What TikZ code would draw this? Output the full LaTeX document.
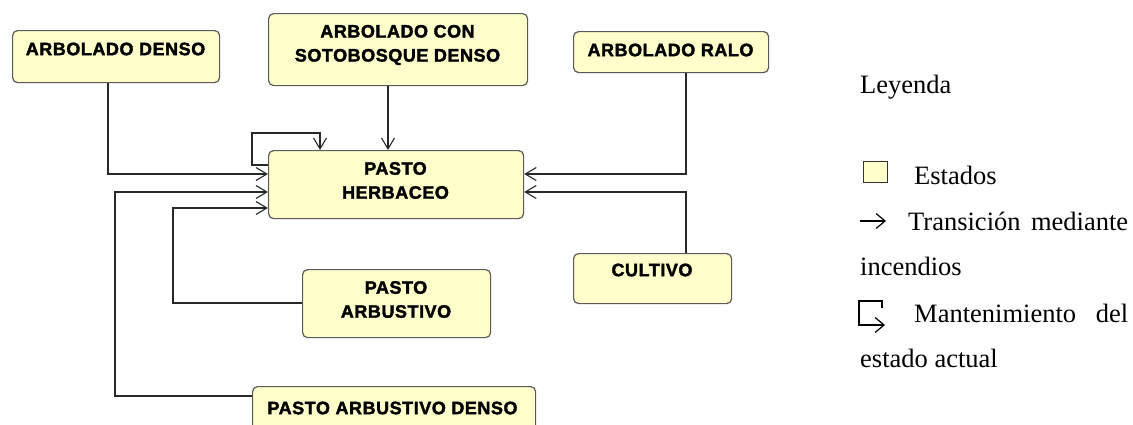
\documentclass[tikz,border=0pt]{standalone}
\usepackage{fontspec}
\setmainfont{Liberation Serif}
\newfontfamily\boxfont{Liberation Sans}[LetterSpace=3,FakeBold=2]
\usetikzlibrary{arrows.meta}
\definecolor{boxfill}{RGB}{255,255,204}
\definecolor{boxline}{RGB}{90,90,90}
\definecolor{lncol}{RGB}{40,40,40}
\begin{document}
\begin{tikzpicture}[x=1pt,y=-1pt,
  statebox/.style={draw=boxline, fill=boxfill, rounded corners=5pt, line width=1.2pt, inner sep=0, anchor=north west},
  boxtext/.style={font=\boxfont\bfseries\fontsize{18}{24}\selectfont, inner sep=0, align=center},
  conn/.style={draw=lncol, line width=1.2pt},
  tip/.style={-{Straight Barb[length=11pt,width=13pt,line width=1.1pt]}},
  legtext/.style={font=\fontsize{26.5}{30}\selectfont, inner sep=0, anchor=base west}]
\useasboundingbox (0,0) rectangle (1133,424);

% state boxes
\node[statebox, minimum width=207pt, minimum height=52pt] (ad) at (12,30) {};
\node[boxtext] (adt) at (115.5,49) {ARBOLADO DENSO};
\node[statebox, minimum width=259pt, minimum height=72pt] (acs) at (268,13) {};
\node[boxtext] (acst) at (397.5,45) {ARBOLADO CON\\SOTOBOSQUE DENSO};
\node[statebox, minimum width=195pt, minimum height=41pt] (ar) at (573,31) {};
\node[boxtext] (art) at (670.5,50) {ARBOLADO RALO};
\node[statebox, minimum width=255pt, minimum height=68pt] (ph) at (268,150) {};
\node[boxtext] (pht) at (395.5,180.5) {PASTO\\HERBACEO};
\node[statebox, minimum width=188pt, minimum height=68pt] (pa) at (302,269) {};
\node[boxtext] (pat) at (396,299.5) {PASTO\\ARBUSTIVO};
\node[statebox, minimum width=158pt, minimum height=50pt] (cu) at (573,253) {};
\node[boxtext] (cut) at (652,270) {CULTIVO};
\node[statebox, minimum width=283pt, minimum height=60pt] (pad) at (252,386) {};
\node[boxtext] (padt) at (392.5,408) {PASTO ARBUSTIVO DENSO};

% connectors
\coordinate (k1) at (108,174);
\draw[conn,tip] (ad.south -| k1) -- (k1) -- (ph.west |- k1);
\coordinate (l1) at (252,165);
\coordinate (l2) at (320,133);
\draw[conn,tip] (ph.west |- l1) -- (l1) -- (l1 |- l2) -- (l2) -- (ph.north -| l2);
\coordinate (m1) at (115,396);
\coordinate (m2) at (115,192);
\draw[conn,tip] (pad.west |- m1) -- (m1) -- (m2) -- (ph.west |- m2);
\coordinate (n1) at (173,303);
\coordinate (n2) at (173,208);
\draw[conn,tip] (pa.west |- n1) -- (n1) -- (n2) -- (ph.west |- n2);
\coordinate (o1) at (388,100);
\draw[conn,tip] (acs.south -| o1) -- (ph.north -| o1);
\coordinate (p1) at (686,174);
\draw[conn,tip] (ar.south -| p1) -- (p1) -- (ph.east |- p1);
\coordinate (q1) at (686,192);
\draw[conn,tip] (cu.north -| q1) -- (q1) -- (ph.east |- q1);

% legend
\node[legtext] (ley) at (860,93) {Leyenda};
\node[draw=black!80, fill=boxfill, line width=1pt, inner sep=0, minimum width=24pt, minimum height=21pt, anchor=north west] (legbox) at (863,161) {};
\node[legtext] (est) at (914,184) {Estados};
\coordinate (la1) at (860,221);
\coordinate (la2) at (886,221);
\draw[line width=1.2pt, -{Straight Barb[length=9pt,width=15pt,line width=1.2pt]}] (la1) -- (la2);
\node[legtext, text width=220pt, align=justify] (tra) at (908,230) {Transición\hfill mediante};
\node[legtext] (inc) at (860,275) {incendios};
\coordinate (lm1) at (882,308);
\coordinate (lm2) at (859,301);
\coordinate (lm3) at (885,325);
\draw[line width=1.2pt, -{Straight Barb[length=9pt,width=15pt,line width=1.2pt]}] (lm1) -- (lm1 |- lm2) -- (lm2) -- (lm2 |- lm3) -- (lm3);
\node[legtext, text width=214pt] (man) at (914,322) {Mantenimiento\hfill del};
\node[legtext] (eac) at (860,367) {estado actual};
\end{tikzpicture}
\end{document}
